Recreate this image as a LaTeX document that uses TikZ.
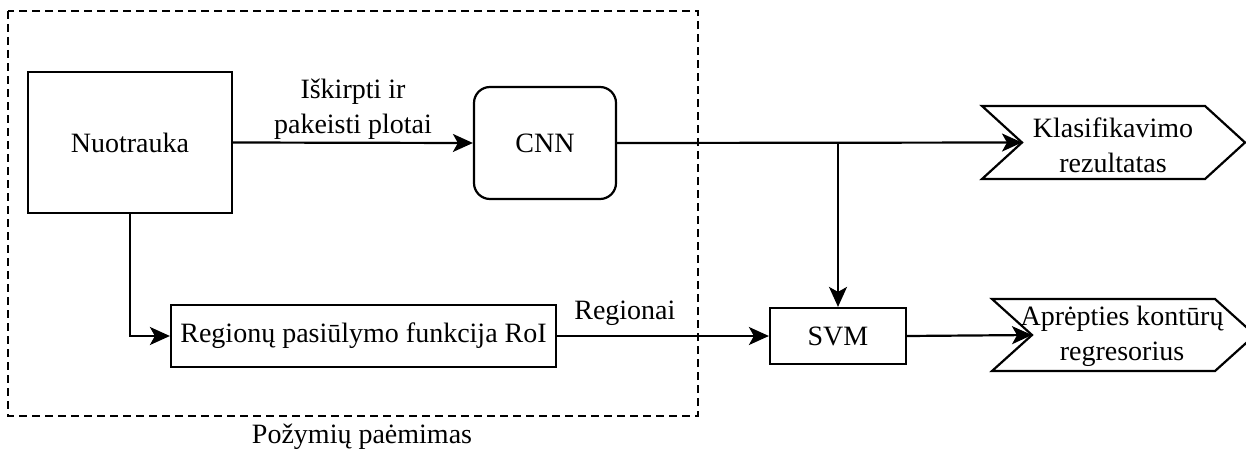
\documentclass[tikz,border=0pt]{standalone}
\usepackage{fontspec}
\setmainfont{Liberation Serif}
\usetikzlibrary{arrows.meta}
\begin{document}
\begin{tikzpicture}[x=1pt,y=-1pt,
  every node/.style={font=\fontsize{28}{35}\selectfont, inner sep=0pt},
  box/.style={draw, line width=2.2pt, align=center},
  conn/.style={line width=2.2pt, -{Stealth[length=20pt,width=18pt,inset=5pt]}},
  lbl/.style={align=center}]
\useasboundingbox (0,0) rectangle (1246,452);
\clip (0,0) rectangle (1246,452);
% dashed group
\draw[line width=1.8pt, dash pattern=on 8pt off 5pt] (8,11) rectangle (698,416);
\node[lbl] (grp) at (362,437) {Požymių paėmimas};
% nodes
\node[box, minimum width=204pt, minimum height=141pt] (img) at (130,142.5) {Nuotrauka};
\node[box, rounded corners=16pt, minimum width=142pt, minimum height=112pt] (cnn) at (545,143) {CNN};
\node[box, minimum width=385pt, minimum height=62pt] (roi) at (363.5,336) {Regionų pasiūlymo funkcija RoI};
\node[box, minimum width=136pt, minimum height=56pt] (svm) at (838,336) {SVM};
% chevrons
\draw[line width=2.2pt] (982,106) -- (1205,106) -- (1245,142.5) -- (1205,179) -- (982,179) -- (1022,142.5) -- cycle;
\coordinate (kin) at (1022,142.5);
\node[lbl] (kl) at (1113,145) {Klasifikavimo\\rezultatas};
\draw[line width=2.2pt] (992,299) -- (1215,299) -- (1255,335) -- (1215,371) -- (992,371) -- (1032,335) -- cycle;
\coordinate (ain) at (1032,335);
\node[lbl] (ap) at (1122,336) {Aprėpties kontūrų\\regresorius};
% connectors
\draw[conn] (img.east) -- node[lbl, above=2pt] {Iškirpti ir\\pakeisti plotai} (cnn.west);
\draw[conn] (cnn.east) -- (kin);
\coordinate (jn) at (838,143);
\draw[conn] (jn) -- (svm.north);
\draw[conn] (img.south) |- (roi.west);
\draw[conn] (roi.east) -- node[lbl, pos=0.32, above=9pt] {Regionai} (svm.west);
\draw[conn] (svm.east) -- (ain);
\end{tikzpicture}
\end{document}
